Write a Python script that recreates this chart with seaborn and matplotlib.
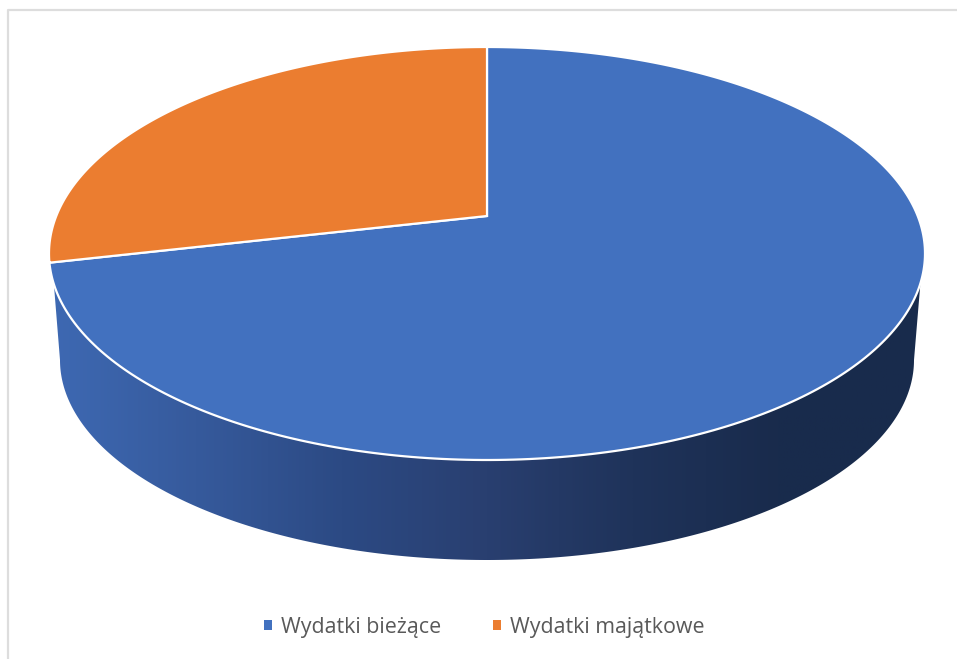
"""Wydatki budzetu - pseudo 3D pie"""
import numpy as np
import matplotlib.pyplot as plt
from matplotlib.colors import LinearSegmentedColormap
from matplotlib.patches import Patch, Polygon
import seaborn as sns

categories = ["Wydatki bieżące", "Wydatki majątkowe"]
shares = [71.4, 28.6]
colors = ["#4271BF", "#EB7D30"]
wall_colors = ["#3E69B3", "#365A9C", "#2C4A84", "#293F70", "#1F335A", "#192B4C", "#182B4C"]

sns.set_theme(style="white")
plt.rcParams["font.family"] = ["Open Sans", "DejaVu Sans"]

# disc geometry in picture pixels, perspective puts the apex above the ellipse centre
CX, APEX_Y, TOP_Y, BOTTOM_Y, HALF_W = 487.0, 216.0, 47.0, 460.0, 438.0
up, down = APEX_Y - TOP_Y, BOTTOM_Y - APEX_Y
k = (down - up) / (down + up)
b = up * (1 + k)
a = HALF_W * np.sqrt(1 - k ** 2)


def project(theta):
    """Map angles on the unit disc to the rim of the tilted pie"""
    u, v = np.cos(theta), np.sin(theta)
    return CX + a * u / (1 + k * v), APEX_Y - b * v / (1 + k * v)


def wedge(start, sweep):
    theta = np.radians(np.linspace(start, start + sweep, 300))
    x, y = project(theta)
    return np.r_[CX, x], np.r_[APEX_Y, y]


fig = plt.figure(figsize=(9.57, 6.59), dpi=100)
ax = fig.add_axes([0, 0, 1, 1])

# side wall with its left to right shading
t = np.radians(np.linspace(0, 360, 720))
rim_x, rim_y = project(t)
start_wall = 283.0
front = rim_y > start_wall
order = np.argsort(rim_x[front])
front_x, front_y = rim_x[front][order], rim_y[front][order]

base_t = np.radians(np.linspace(180, 360, 300))
base_x = CX + 427 * np.cos(base_t)
base_y = 360 - 200 * np.sin(base_t)
outline = np.vstack([
    np.c_[front_x, front_y],
    np.c_[base_x[::-1], base_y[::-1]],
])
wall = Polygon(outline, closed=True, facecolor="none", edgecolor="none")
ax.add_patch(wall)
cmap = LinearSegmentedColormap.from_list("wall", wall_colors)
img = ax.imshow(np.linspace(0, 1, 512)[None, :], extent=[49, 925, 565, 270],
                aspect="auto", cmap=cmap, zorder=1)
img.set_clip_path(wall)

# top face
start = 90.0
for share, color in zip(shares, colors):
    sweep = -share * 3.6
    x, y = wedge(start, sweep)
    ax.fill(x, y, facecolor=color, edgecolor="white", linewidth=1.6, joinstyle="miter", zorder=2)
    start += sweep

# frame only shows on the left and top, the crop cut the rest
ax.plot([1000, 7.5, 7.5], [9.5, 9.5, 700], color="#DDDDDD", linewidth=1.6, zorder=0)

handles = [Patch(facecolor=c, edgecolor="none") for c in colors]
ax.legend(handles, categories, ncol=2, frameon=False, loc="center", bbox_to_anchor=(0.506, 0.048),
          fontsize=15.4, labelcolor="#595959", handlelength=0.38, handleheight=0.38,
          handletextpad=0.42, columnspacing=2.44)

ax.set_xlim(0, 957)
ax.set_ylim(659, 0)
ax.axis("off")

fig.savefig("out.png", dpi=100, facecolor="white")
